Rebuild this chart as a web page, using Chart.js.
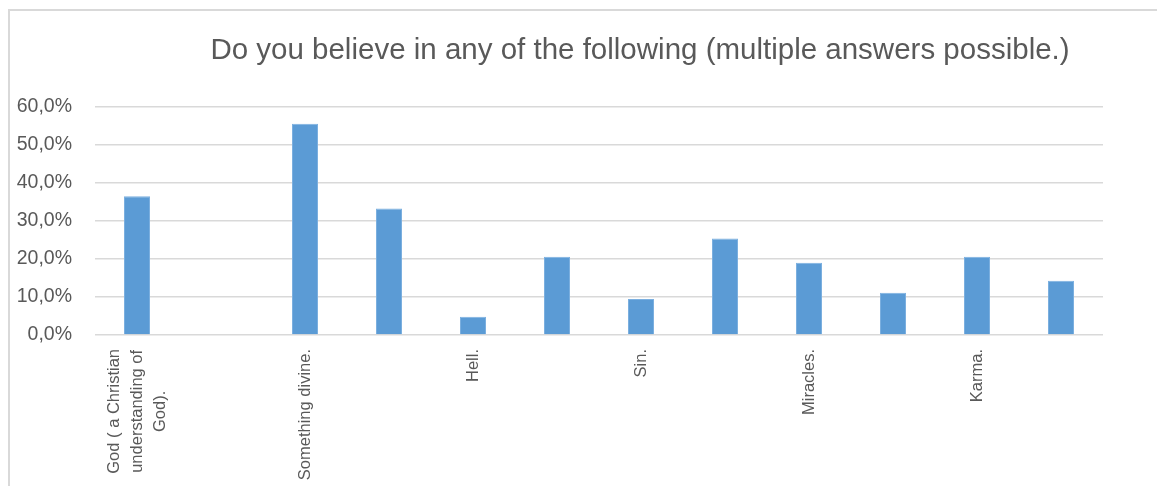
<!DOCTYPE html>
<html>
<head>
<meta charset="utf-8">
<script src="https://cdn.jsdelivr.net/npm/chart.js@4.4.1/dist/chart.umd.min.js"></script>
<style>
  body { margin: 0; background: #fff; }
  #wrap { position: relative; width: 1157px; height: 486px; overflow: hidden; }
  #frame { position: absolute; left: 8px; top: 9px; width: 1200px; height: 600px;
           border-left: 2px solid #d9d9d9; border-top: 2px solid #d9d9d9; }
  canvas { position: absolute; left: 0; top: 0; }
</style>
</head>
<body>
<div id="wrap">
  <div id="frame"></div>
  <canvas id="chart" width="1157" height="486"></canvas>
</div>
<script>
const chartTitle = "Do you believe in any of the following (multiple answers possible.)";

// only every other category carries a name on the axis
const categories = [
    ["God ( a Christian", "understanding of", "God)."],
    "",
    "Something divine.",
    "",
    "Hell.",
    "",
    "Sin.",
    "",
    "Miracles.",
    "",
    "Karma.",
    ""
];

// share of respondents, in percent
const shares = [36.5, null, 55.6, 33.3, 4.8, 20.6, 9.5, 25.4, 19.0, 11.1, 20.6, 14.3];

const yTicks = [0, 10, 20, 30, 40, 50, 60];

const textColor = "#595959";
const font = "Liberation Sans";

// ================= TITLE =================
const titlePlugin = {
    id: "chartTitle",
    afterDraw(chart){
        const ctx = chart.ctx;
        ctx.save();
        ctx.font = `29.5px "${font}"`;
        ctx.fillStyle = textColor;
        ctx.textAlign = "center";
        ctx.textBaseline = "alphabetic";
        ctx.fillText(chartTitle, 640, 59);
        ctx.restore();
    }
};

// ================= X LABELS =================
// rotated, multi-line labels centred on the tick
const xLabelPlugin = {
    id: "xLabels",
    afterDraw(chart){
        const x = chart.scales.x;
        const ctx = chart.ctx;
        ctx.save();
        ctx.font = `16.5px "${font}"`;
        ctx.fillStyle = textColor;
        ctx.textAlign = "center";
        ctx.textBaseline = "middle";
        categories.forEach((label, i) => {
            const lines = [].concat(label);
            const w = Math.max(...lines.map(l => ctx.measureText(l).width));
            ctx.save();
            ctx.translate(x.getPixelForTick(i), x.top + 14);
            ctx.rotate(-Math.PI / 2);
            lines.forEach((line, j) => {
                ctx.fillText(line, -w / 2, (j - (lines.length - 1) / 2) * 23);
            });
            ctx.restore();
        });
        ctx.restore();
    }
};

// ================= CHART =================
const ctx = document.getElementById("chart").getContext("2d");

new Chart(ctx, {
    type: "bar",
    data: {
        labels: categories,
        datasets: [{
            data: shares,
            backgroundColor: "#5b9bd5",
            borderColor: "#7cb0e0",
            borderWidth: 1,
            barPercentage: 0.31,
            categoryPercentage: 1
        }]
    },
    options: {
        responsive: false,
        animation: false,
        layout: { padding: { top: 107, right: 54, left: 0, bottom: 0 } },
        plugins: {
            legend: { display: false },
            tooltip: { enabled: false },
            title: { display: false }
        },
        scales: {
            x: {
                grid: { display: false },
                border: { display: false },
                ticks: { display: false },
                afterFit(scale){ scale.height = 151; }
            },
            y: {
                min: 0,
                max: 60,
                afterBuildTicks(scale){ scale.ticks = yTicks.map(v => ({ value: v })); },
                afterFit(scale){ scale.width = 95; },
                grid: { color: "#d9d9d9", lineWidth: 1.5, drawTicks: false },
                border: { display: false },
                ticks: {
                    padding: 23,
                    color: textColor,
                    font: { family: font, size: 19.5 },
                    callback: v => v.toFixed(1).replace(".", ",") + "%"
                }
            }
        }
    },
    plugins: [titlePlugin, xLabelPlugin]
});
</script>
</body>
</html>
